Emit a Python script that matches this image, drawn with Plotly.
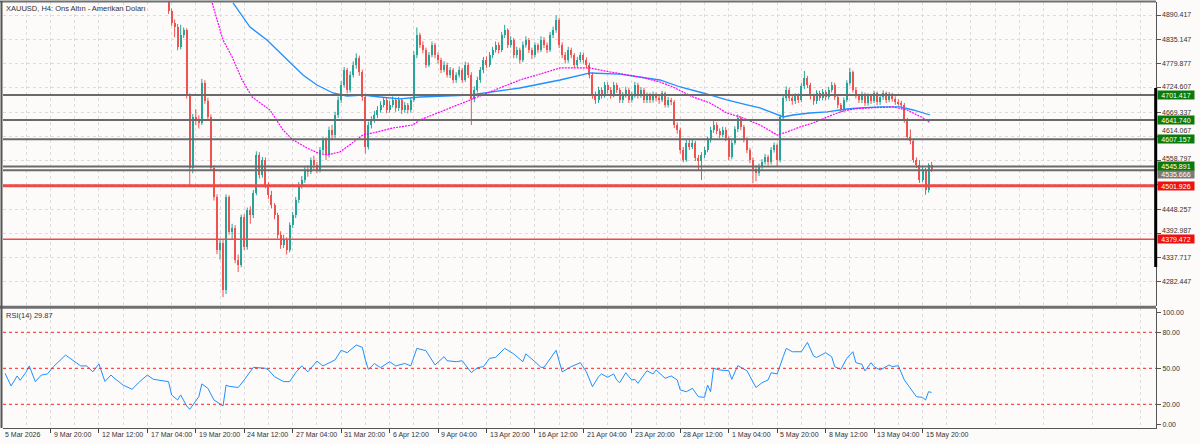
import plotly.graph_objects as go

W, H = 1200, 444
BG = "#fdfafa"
FONT = "Liberation Sans"

def py(y):
    return 1 - y / H

# ---------------- data ----------------
label_bars = list(range(0, 305, 16))
time_labels = ["5 Mar 2026", "9 Mar 20:00", "12 Mar 12:00", "17 Mar 04:00", "19 Mar 20:00",
               "24 Mar 12:00", "27 Mar 04:00", "31 Mar 20:00", "6 Apr 12:00", "9 Apr 04:00",
               "13 Apr 20:00", "16 Apr 12:00", "21 Apr 04:00", "23 Apr 20:00", "28 Apr 12:00",
               "1 May 04:00", "5 May 20:00", "8 May 12:00", "13 May 04:00", "15 May 20:00"]
price_ticks = [4890.417, 4835.147, 4779.877, 4724.607, 4669.337, 4614.067,
               4558.797, 4503.527, 4448.257, 4392.987, 4337.717, 4282.447]
# tick labels that are visible (4503.527 is hidden behind the 4501.926 box in the original)
price_tick_labels = ["4890.417", "4835.147", "4779.877", "4724.607", "4669.337", "4614.067",
                     "4558.797", "", "4448.257", "4392.987", "4337.717", "4282.447"]

first_bar = 55  # bar index of the first candle in the lists below
opens = [4935,4900,4872,4863,4818,4845,4856,4706,4542,4658,
4651,4645,4736,4695,4658,4542,4476,4355,4371,4264,
4476,4396,4405,4333,4321,4430,4362,4446,4435,4485,
4572,4526,4560,4503,4481,4458,4435,4390,4367,4378,
4355,4412,4435,4469,4503,4515,4538,4533,4560,4549,
4538,4583,4606,4572,4629,4617,4663,4697,4731,4765,
4720,4754,4776,4793,4760,4703,4590,4640,4651,4663,
4674,4686,4697,4674,4686,4697,4679,4697,4674,4686,
4674,4697,4799,4845,4822,4811,4777,4799,4822,4799,
4788,4765,4777,4754,4765,4742,4754,4765,4742,4777,
4754,4700,4720,4742,4765,4788,4777,4799,4811,4822,
4811,4845,4856,4822,4834,4799,4811,4788,4822,4834,
4811,4799,4822,4811,4834,4822,4811,4845,4856,4879,
4822,4799,4788,4811,4799,4777,4788,4799,4788,4777,
4754,4708,4697,4720,4708,4731,4720,4708,4731,4720,
4697,4708,4720,4697,4708,4731,4708,4720,4697,4708,
4697,4708,4701,4697,4712,4686,4697,4692,4640,4629,
4583,4560,4600,4590,4600,4565,4558,4571,4583,4606,
4629,4640,4626,4617,4629,4610,4567,4600,4630,4656,
4635,4606,4583,4560,4540,4530,4545,4556,4567,4556,
4583,4594,4560,4658,4701,4720,4701,4694,4706,4697,
4728,4747,4731,4706,4694,4712,4701,4715,4703,4720,
4731,4703,4685,4676,4697,4735,4760,4720,4706,4697,
4710,4690,4706,4695,4712,4692,4703,4712,4697,4708,
4699,4692,4690,4686,4651,4613,4603,4560,4549,4515,
4537,4492,4549]
highs = [4945,4905,4880,4870,4868,4862,4860,4712,4665,4676,
4662,4745,4742,4702,4664,4548,4482,4380,4380,4482,
4480,4415,4412,4345,4436,4437,4452,4455,4492,4580,
4578,4567,4566,4510,4490,4462,4440,4398,4390,4384,
4418,4442,4476,4510,4524,4546,4548,4566,4570,4556,
4590,4612,4612,4636,4640,4670,4705,4740,4772,4770,
4762,4785,4803,4798,4766,4708,4648,4660,4672,4683,
4694,4703,4702,4695,4705,4702,4704,4701,4692,4690,
4703,4808,4862,4850,4830,4816,4806,4830,4827,4805,
4793,4785,4782,4772,4770,4760,4773,4770,4784,4782,
4760,4728,4750,4772,4795,4796,4806,4818,4830,4828,
4852,4868,4860,4842,4838,4818,4816,4830,4842,4838,
4816,4828,4826,4842,4840,4828,4852,4864,4890,4884,
4828,4806,4818,4816,4804,4795,4806,4804,4794,4782,
4760,4716,4727,4726,4738,4737,4726,4738,4736,4725,
4715,4727,4724,4716,4738,4736,4726,4725,4714,4713,
4716,4714,4708,4718,4716,4704,4702,4697,4646,4634,
4590,4606,4607,4608,4604,4572,4578,4590,4613,4636,
4650,4646,4632,4636,4635,4614,4606,4637,4664,4660,
4640,4612,4588,4566,4548,4552,4562,4574,4572,4590,
4600,4598,4664,4708,4728,4725,4708,4712,4712,4735,
4763,4752,4736,4711,4719,4718,4722,4720,4727,4738,
4736,4708,4690,4703,4742,4770,4764,4726,4711,4716,
4714,4712,4711,4718,4716,4710,4719,4716,4715,4713,
4705,4698,4695,4690,4656,4630,4608,4566,4560,4545,
4542,4553,4556]
lows = [4893,4866,4840,4810,4812,4838,4700,4503,4530,4640,
4632,4640,4688,4650,4536,4468,4346,4333,4248,4255,
4390,4380,4325,4305,4316,4355,4356,4415,4428,4480,
4518,4520,4496,4472,4450,4425,4382,4358,4360,4345,
4350,4405,4428,4462,4495,4508,4522,4528,4540,4530,
4532,4576,4560,4566,4608,4610,4656,4690,4725,4712,
4714,4748,4768,4752,4695,4575,4584,4632,4645,4656,
4668,4680,4667,4668,4680,4670,4672,4665,4668,4666,
4668,4692,4792,4815,4803,4770,4772,4794,4792,4780,
4758,4760,4748,4747,4735,4736,4748,4736,4738,4747,
4640,4692,4714,4736,4758,4770,4772,4792,4805,4803,
4806,4838,4815,4816,4792,4792,4780,4783,4816,4804,
4790,4794,4804,4806,4815,4804,4806,4838,4850,4815,
4792,4780,4782,4792,4770,4771,4782,4780,4770,4746,
4700,4688,4690,4700,4702,4712,4700,4703,4713,4690,
4690,4702,4690,4691,4702,4700,4702,4690,4690,4690,
4691,4694,4688,4692,4680,4680,4685,4633,4620,4575,
4555,4556,4583,4585,4558,4537,4515,4565,4578,4600,
4622,4619,4610,4612,4603,4560,4562,4595,4624,4628,
4600,4576,4553,4508,4512,4524,4540,4550,4548,4550,
4577,4545,4555,4650,4694,4694,4686,4688,4690,4692,
4722,4724,4698,4686,4688,4695,4696,4696,4698,4714,
4697,4678,4668,4670,4692,4730,4714,4700,4690,4690,
4683,4684,4688,4690,4685,4686,4697,4690,4692,4693,
4686,4684,4680,4645,4606,4596,4554,4542,4508,4510,
4481,4486,4533]
closes = [4900,4872,4863,4818,4845,4856,4706,4542,4658,4651,
4645,4736,4695,4658,4542,4476,4355,4371,4264,4476,
4396,4405,4333,4321,4430,4362,4446,4435,4485,4572,
4526,4560,4503,4481,4458,4435,4390,4367,4378,4355,
4412,4435,4469,4503,4515,4538,4533,4560,4549,4538,
4583,4606,4572,4629,4617,4663,4697,4731,4765,4720,
4754,4776,4793,4760,4703,4590,4640,4651,4663,4674,
4686,4697,4674,4686,4697,4679,4697,4674,4686,4674,
4697,4799,4845,4822,4811,4777,4799,4822,4799,4788,
4765,4777,4754,4765,4742,4754,4765,4742,4777,4754,
4700,4720,4742,4765,4788,4777,4799,4811,4822,4811,
4845,4856,4822,4834,4799,4811,4788,4822,4834,4811,
4799,4822,4811,4834,4822,4811,4845,4856,4879,4822,
4799,4788,4811,4799,4777,4788,4799,4788,4777,4754,
4708,4697,4720,4708,4731,4720,4708,4731,4720,4697,
4708,4720,4697,4708,4731,4708,4720,4697,4708,4697,
4708,4701,4697,4712,4686,4697,4692,4640,4629,4583,
4560,4600,4590,4600,4565,4558,4571,4583,4606,4629,
4640,4626,4617,4629,4610,4567,4600,4630,4656,4635,
4606,4583,4560,4540,4530,4545,4556,4567,4556,4583,
4594,4560,4658,4701,4720,4701,4694,4706,4697,4728,
4747,4731,4706,4694,4712,4701,4715,4703,4720,4731,
4703,4685,4676,4697,4735,4760,4720,4706,4697,4710,
4690,4706,4695,4712,4692,4703,4712,4697,4708,4699,
4692,4690,4686,4651,4613,4603,4560,4549,4515,4537,
4492,4549,4540]

ma_fast_x = [69.4,72,73,76,79.3,82.6,88.5,92.8,96.1,100.7,104.4,107.3,111.6,113.9,119.2,122.5,129.1,135.7,138,144.7,154.6,164.5,171,177.7,184.3,194.2,200.8,210.7,217.3,221.6,228.2,233.8,239.4,244.7,250.3,256,259.2,263.5,267.8,272.5,276.8,281,285.7,294.3,298.9,304.2,306.5]
ma_fast_v = [4917.8,4860.8,4833.5,4794.8,4742.4,4703.7,4674.1,4628.6,4605.8,4587.6,4576.2,4571.7,4578.5,4590,4617.2,4621.8,4633.1,4640,4651.4,4669.6,4696.9,4724.2,4742.4,4756,4769.8,4769.8,4760.7,4749.3,4737.9,4726.5,4703.7,4690.2,4667.3,4655.9,4640,4617.2,4624,4635.4,4644.5,4658.2,4669.6,4676.4,4678.7,4681,4674.1,4656,4645]
ma_slow_x = [76.3,81.9,87.5,94.1,99.4,104,109.3,113.9,119.2,124.8,131.4,138,154.6,171,184.3,194.2,204,217.3,224,231.5,239.4,246,250.3,254.6,258,261.2,266.8,272.5,279,283.4,290,296.6,300.9,306.5]
ma_slow_v = [4917.8,4863.1,4833.5,4788,4753.8,4731,4712.8,4706,4708.3,4703.7,4699.2,4703.7,4708.3,4724.2,4742.4,4758.4,4756,4742.4,4726.5,4712.8,4696.9,4685.5,4678.7,4667.3,4658.2,4662.7,4667.3,4669.6,4676.4,4678.7,4681,4681,4674.1,4662.7]

rsi_x = [1,3,5,6,8,9,11,13,15,17,21,23,26,28,30,32,34,36,37,40,43,45,48,50,55,56,58,59,61,62,65,66,68,70,73,74,75,78,80,83,87,88,90,93,95,97,99,101,104,106,110,112,114,117,119,120,121,123,125,128,130,133,135,137,140,143,146,147,150,152,155,157,159,161,163,166,169,172,173,176,178,179,183,185,188,191,193,195,197,198,200,202,203,204,206,207,208,209,210,213,215,216,219,221,223,224,226,228,230,232,233,234,235,237,240,241,243,246,249,251,253,254,256,258,259,261,264,266,268,269,272,274,275,277,279,281,282,284,285,287,288,290,293,294,296,298,301,302,304,305,306,307]
rsi_v = [45.8,35.3,43.6,40,47,52,38.9,44.4,45.3,51.4,61,57.5,52,52,47,53.6,39,44.4,42,36,32.5,37.8,44.4,40.8,38.9,27.8,23.6,27.8,18.6,15.8,26.3,37,33.3,23.6,18.6,36,35,34,40.3,50.8,50,48.6,43,38.9,38.9,46.4,52,47,56,52,57,65,63,69.4,67.5,57,49,54,50.5,55.5,52,54,52,66.6,64.7,52.8,59.7,56.3,55.5,56.3,46.4,50.5,51.4,58.3,59.1,66.6,62,55.5,62,55.5,50.8,50.8,65,47,51.4,54.7,47,34.7,43,45.3,42.5,45.3,40.3,38,46.3,43,40.3,40.8,37.5,48,45.3,48.6,41.7,43.6,40.3,31.9,30.5,33.3,26.3,25.8,36,30.5,50,48.6,48,40.8,52.2,48,34,38,40.3,46.3,45.3,59.7,66.6,63.8,63.8,71.6,60.2,59,63,59.7,51.4,49,58.3,63.8,54.7,53.3,47.8,54.7,51.4,48.6,52.8,51.4,52.2,40.3,30.5,26.3,25.8,23.6,30.5,29.87]
rsi_levels = [20, 50, 80]

gray_levels = [4708.3, 4651.4, 4607.6, 4545.6, 4536.8]
red_levels = [4501.7, 4379.8]
level_labels = ["4701.417", "4641.740", "4607.157", "4535.666", "4545.891", "4501.926", "4379.472"]
level_label_prices = [4708.3, 4651.4, 4607.6, 4536.8, 4545.6, 4501.7, 4379.8]

# ---------------- figure ----------------
bars = list(range(first_bar, first_bar + len(closes)))
UP, DN = "#26a69a", "#ef5350"
fig = go.Figure()
for up, col in ((True, UP), (False, DN)):
    bx, bb, bh, wx, wy = [], [], [], [], []
    for i, o, h, l, c in zip(bars, opens, highs, lows, closes):
        if (c >= o) != up:
            continue
        bx.append(i); bb.append(min(o, c)); bh.append(max(abs(c - o), 1.5))
        wx += [i, i, None]; wy += [l, h, None]
    fig.add_trace(go.Scatter(x=wx, y=wy, mode="lines", line=dict(color=col, width=1),
                             hoverinfo="skip", showlegend=False))
    fig.add_trace(go.Bar(x=bx, y=bh, base=bb, width=0.66, marker=dict(color=col, line=dict(width=0)),
                         showlegend=False))

fig.add_trace(go.Scatter(x=ma_slow_x, y=ma_slow_v, mode="lines", line=dict(color="#1e90ff", width=1.3),
                         showlegend=False))
fig.add_trace(go.Scatter(x=ma_fast_x, y=ma_fast_v, mode="lines", line=dict(color="#ff00ff", width=1.2, dash="2px,1px"),
                         showlegend=False))
fig.add_trace(go.Scatter(x=rsi_x, y=rsi_v, mode="lines", line=dict(color="#1e90ff", width=1),
                         xaxis="x2", yaxis="y2", showlegend=False))

XL, XR = 3 / W, 1156 / W
BAR0, BARPX = 2.0, 3.028
x_range = [(3 - BAR0) / BARPX, (1156 - BAR0) / BARPX]
grid = dict(showgrid=True, gridcolor="#dcdcdc", griddash="dot", gridwidth=1)

shapes = []
for v in gray_levels:
    shapes.append(dict(type="line", xref="paper", yref="y", x0=XL, x1=XR, y0=v, y1=v,
                       line=dict(color="#6a6a6a", width=2)))
shapes.append(dict(type="line", xref="paper", yref="y", x0=XL, x1=XR, y0=red_levels[0], y1=red_levels[0],
                   line=dict(color="#ef4a4a", width=3)))
shapes.append(dict(type="line", xref="paper", yref="y", x0=XL, x1=XR, y0=red_levels[1], y1=red_levels[1],
                   line=dict(color="#ef4a4a", width=1.5)))
for v in rsi_levels:
    shapes.append(dict(type="line", xref="paper", yref="y2", x0=XL, x1=XR, y0=v, y1=v,
                       line=dict(color="#ff2020", width=1, dash="dot")))
# frame
shapes += [
    dict(type="line", xref="paper", yref="paper", x0=0, x1=XR, y0=py(1.5), y1=py(1.5), line=dict(color="#707070", width=2)),
    dict(type="line", xref="paper", yref="paper", x0=0, x1=XR, y0=py(307.3), y1=py(307.3), line=dict(color="#707070", width=3)),
    dict(type="line", xref="paper", yref="paper", x0=1.5 / W, x1=1.5 / W, y0=py(428), y1=py(1), line=dict(color="#555555", width=2)),
    dict(type="line", xref="paper", yref="paper", x0=1155.7 / W, x1=1155.7 / W, y0=py(88), y1=py(267), line=dict(color="#000000", width=3)),
]

annotations = [
    dict(text="XAUUSD, H4: Ons Altın - Amerikan Doları", xref="paper", yref="paper", x=4 / W, y=py(8),
         xanchor="left", yanchor="middle", showarrow=False, font=dict(family=FONT, size=7.5, color="#333")),
    dict(text="RSI(14) 29.87", xref="paper", yref="paper", x=4 / W, y=py(315.5),
         xanchor="left", yanchor="middle", showarrow=False, font=dict(family=FONT, size=7.5, color="#333")),
]
for b, txt in zip(label_bars, time_labels):
    annotations.append(dict(text=txt, xref="x2", yref="paper", x=b + 0.4, y=py(434.5), xanchor="left",
                            yanchor="middle", showarrow=False, font=dict(family=FONT, size=7, color="#333")))
# price scale labels (nudged slightly where a level box sits right below them)
nudge = {"4724.607": 1, "4614.067": 6, "4558.797": 2.5, "4392.987": 2.5}
for v, txt in zip(price_ticks, price_tick_labels):
    if not txt:
        continue
    annotations.append(dict(text=txt, xref="paper", yref="y", x=1160 / W, y=v, xanchor="left",
                            yanchor="middle", yshift=nudge.get(txt, 0), showarrow=False,
                            font=dict(family=FONT, size=7, color="#333")))
box_colors = {"4535.666": "#7a7a7a", "4501.926": "#f01010", "4379.472": "#f01010"}
for txt, v in zip(level_labels, level_label_prices):
    annotations.append(dict(text=txt, xref="paper", yref="y", x=1157 / W, y=v, xanchor="left", yanchor="middle",
                            yshift=-4 if txt == "4535.666" else 0,
                            showarrow=False, bgcolor=box_colors.get(txt, "#0a7a0a"), width=36, height=8,
                            borderpad=0, font=dict(family=FONT, size=7, color="white")))

fig.update_layout(
    width=W, height=H, margin=dict(l=0, r=0, t=0, b=0), paper_bgcolor=BG, plot_bgcolor=BG,
    barmode="overlay", bargap=0, showlegend=False, shapes=shapes, annotations=annotations,
    xaxis=dict(domain=[XL, XR], range=x_range, anchor="y", showticklabels=False, ticks="",
               tickmode="array", tickvals=list(range(0, 384, 8)), zeroline=False, **grid),
    xaxis2=dict(domain=[XL, XR], range=x_range, anchor="y2", tickmode="array", tickvals=label_bars,
                ticktext=[""] * len(label_bars), ticks="outside", ticklen=4, tickcolor="#444", showline=True,
                linecolor="#555", linewidth=1, zeroline=False, **grid,
                minor=dict(tickvals=list(range(8, 384, 16)), showgrid=True, gridcolor="#dcdcdc", griddash="dot")),
    yaxis=dict(domain=[py(306), py(2)], range=[4227.78, 4920.02], anchor="x", side="right",
               tickmode="array", tickvals=price_ticks, showticklabels=False,
               ticks="outside", ticklen=4, tickcolor="#555", showline=True, linecolor="#555", linewidth=1,
               zeroline=False, **grid),
    yaxis2=dict(domain=[py(428.3), py(308.3)], range=[0, 100], anchor="x2", side="right",
                tickmode="array", tickvals=[96.5, 80, 50, 20, 3.3],
                ticktext=["100.00", "80.00", "50.00", "20.00", "0.00"],
                ticks="outside", ticklen=4, tickcolor="#555", showline=True, linecolor="#555", linewidth=1,
                tickfont=dict(family=FONT, size=7, color="#333"), showgrid=False, zeroline=False),
)
fig.write_html("out.html")
